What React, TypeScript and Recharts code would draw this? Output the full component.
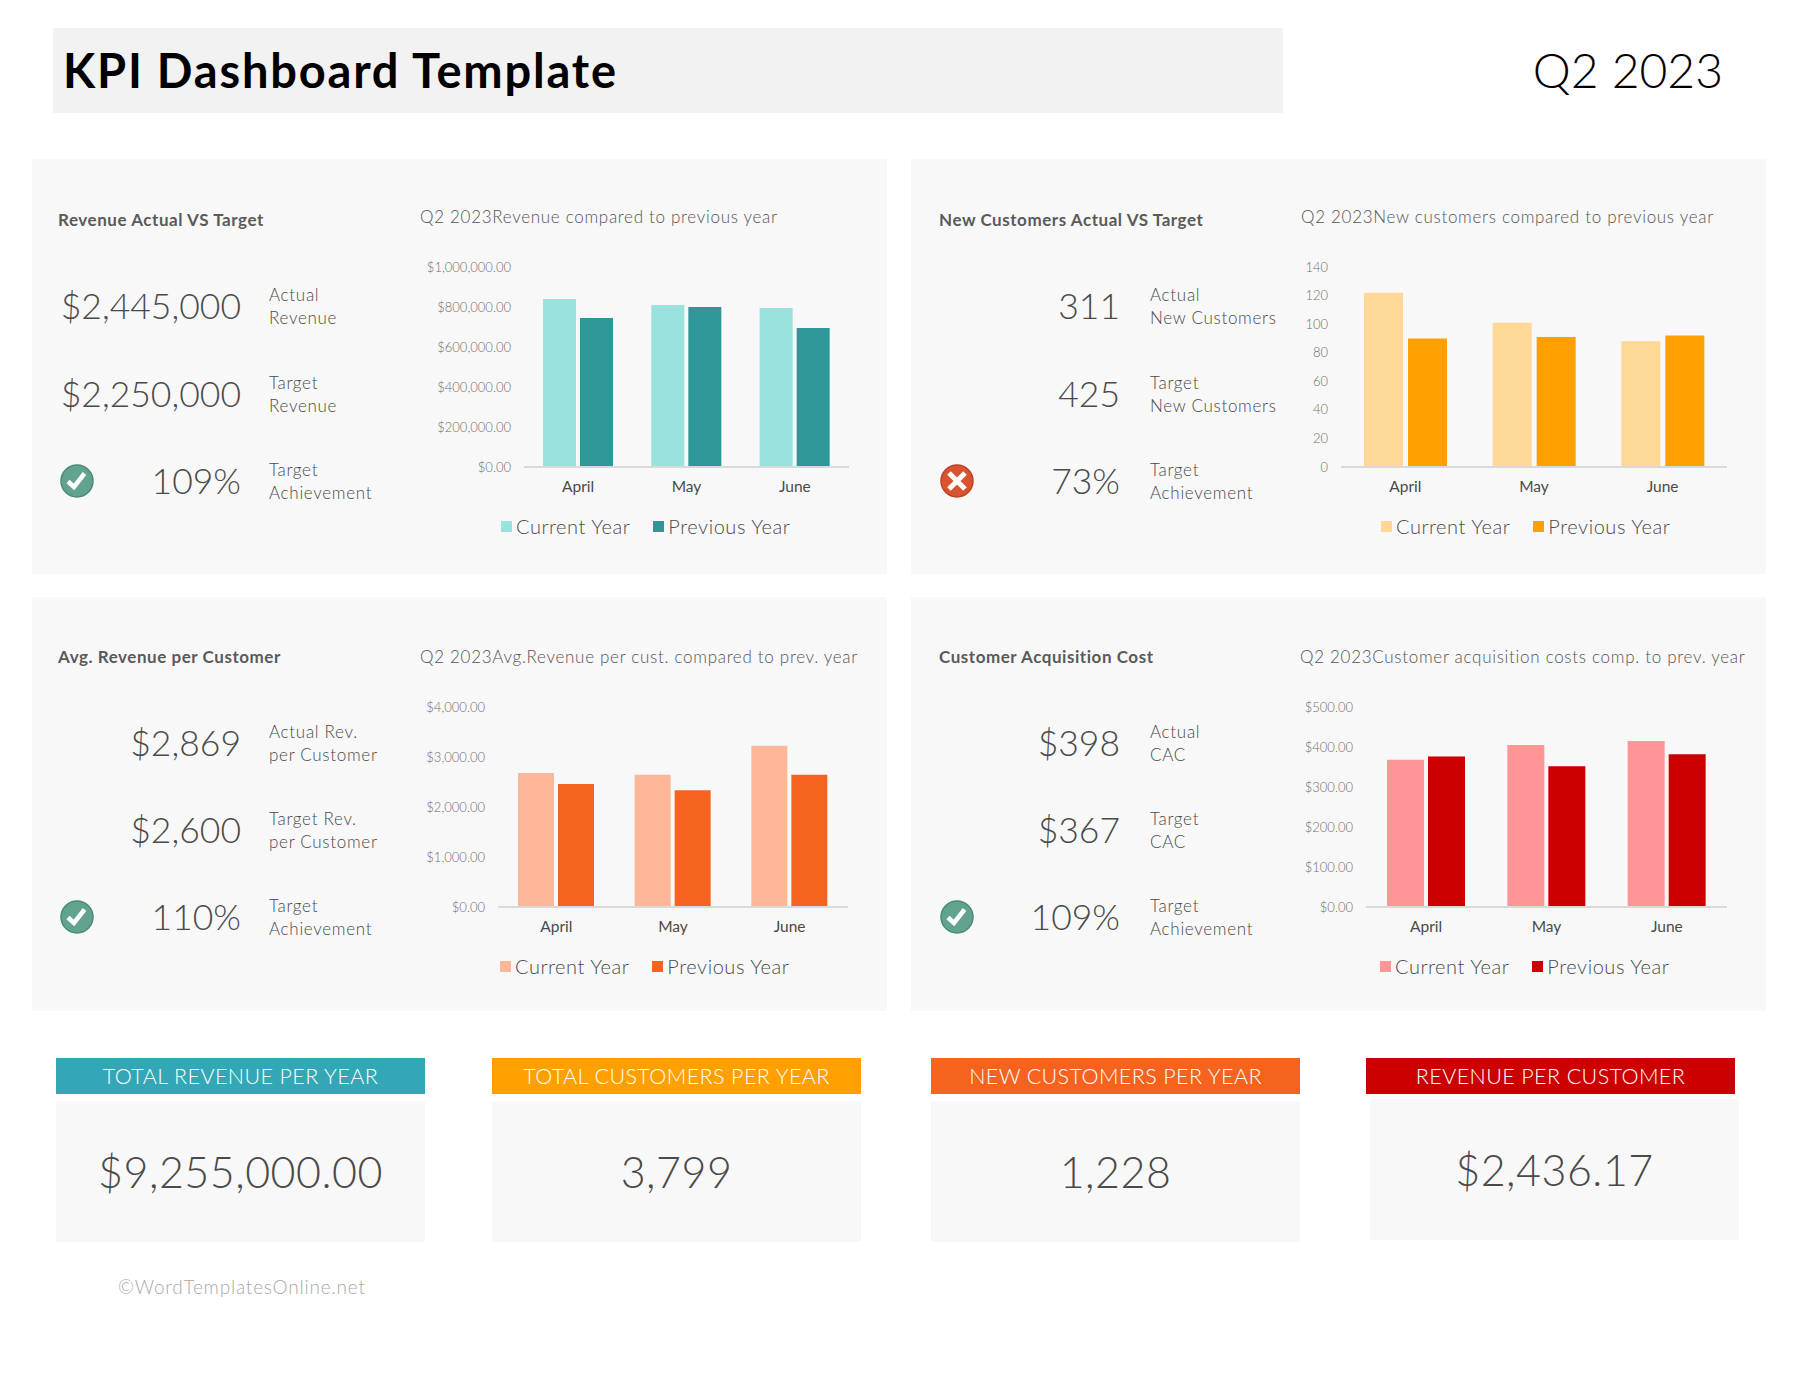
import { BarChart, Bar, XAxis, YAxis, Legend } from 'recharts'

const months = ['April', 'May', 'June']

const revenueCurrent = [840000, 810000, 795000]
const revenuePrevious = [745000, 800000, 695000]
const revenueTicks = [0, 200000, 400000, 600000, 800000, 1000000]

const customersCurrent = [122, 101, 88]
const customersPrevious = [90, 91, 92]
const customersTicks = [0, 20, 40, 60, 80, 100, 120, 140]

const avgCurrent = [2680, 2647, 3227]
const avgPrevious = [2460, 2333, 2647]
const avgTicks = [0, 1000, 2000, 3000, 4000]

const cacCurrent = [368, 405, 415]
const cacPrevious = [376, 352, 382]
const cacTicks = [0, 100, 200, 300, 400, 500]

const totals = ['$9,255,000.00', '3,799', '1,228', '$2,436.17']
const totalTitles = ['TOTAL REVENUE PER YEAR', 'TOTAL CUSTOMERS PER YEAR', 'NEW CUSTOMERS PER YEAR', 'REVENUE PER CUSTOMER']

const FONT = 'Lato, sans-serif'
const INK = '#4a4a4a'

const money = (v: number) => '$' + v.toLocaleString('en-US', { minimumFractionDigits: 2, maximumFractionDigits: 2 })
const plain = (v: number) => String(v)

function Txt({ x, right, y, size, weight = 300, color = INK, spacing = 0, children }: any) {
  const style: any = {
    position: 'absolute',
    top: y,
    transform: 'translateY(-50%)',
    fontFamily: FONT,
    fontSize: size,
    fontWeight: weight,
    color,
    letterSpacing: spacing,
    whiteSpace: 'nowrap',
    lineHeight: 1.2
  }
  if (right !== undefined) style.right = 1800 - right
  else style.left = x
  return <div style={style}>{children}</div>
}

function Icon({ x, y, ok }: { x: number; y: number; ok: boolean }) {
  return (
    <svg style={{ position: 'absolute', left: x - 18, top: y - 18 }} width={36} height={36}>
      <circle cx={18} cy={18} r={16} fill={ok ? '#62A390' : '#D8532F'} stroke={ok ? '#4A8A77' : '#BE4226'} strokeWidth={1.5} />
      {ok ? (
        <path d="M9 18.5 L15 24 L25.5 10.5" fill="none" stroke="#fff" strokeWidth={4.5} />
      ) : (
        <path d="M10 10 L26 26 M26 10 L10 26" fill="none" stroke="#fff" strokeWidth={5} />
      )}
    </svg>
  )
}

function MiniChart({ left, right, plotTop, plotBottom, axisWidth, legendX, legendGap, current, previous, ticks, format, light, dark, barSize, barGap }: any) {
  const top = plotTop - 10
  const height = plotBottom + 71 - top
  const rows = months.map((month, i) => ({ month, current: current[i], previous: previous[i] }))
  return (
    <div style={{ position: 'absolute', left: left - axisWidth, top }}>
      <BarChart
        width={right - left + axisWidth}
        height={height}
        data={rows}
        barSize={barSize}
        barGap={barGap}
        margin={{ top: 10, right: 0, bottom: 0, left: 0 }}
      >
        <XAxis
          dataKey="month"
          tickLine={false}
          height={47}
          tickMargin={8}
          axisLine={{ stroke: '#D9D9D9', strokeWidth: 2 }}
          tick={{ fontSize: 15.5, fontFamily: FONT, fontWeight: 400, fill: '#4a4a4a' }}
        />
        <YAxis
          width={axisWidth}
          domain={[ticks[0], ticks[ticks.length - 1]]}
          ticks={ticks}
          interval={0}
          tickFormatter={format}
          axisLine={false}
          tickLine={false}
          tickSize={0}
          tickMargin={13}
          tick={{ fontSize: 13, fontFamily: FONT, fontWeight: 300, fill: '#6f6f6f' }}
        />
        <Legend
          verticalAlign="bottom"
          height={24}
          wrapperStyle={{ left: 0 }}
          content={() => (
            <div style={{ display: 'flex', alignItems: 'center', height: 24, paddingLeft: legendX, fontFamily: FONT, fontWeight: 300, fontSize: 20, color: INK, letterSpacing: 0.55, whiteSpace: 'nowrap' }}>
              <span style={{ width: 11, height: 11, background: light, marginRight: 4 }} />
              <span style={{ marginRight: legendGap }}>Current Year</span>
              <span style={{ width: 11, height: 11, background: dark, marginRight: 4 }} />
              <span>Previous Year</span>
            </div>
          )}
        />
        <Bar dataKey="current" name="Current Year" fill={light} isAnimationActive={false} />
        <Bar dataKey="previous" name="Previous Year" fill={dark} isAnimationActive={false} />
      </BarChart>
    </div>
  )
}

function Panel({ x, y, h = 415, titleX, title, chartTitle, chartTitleX, chartTitleY, numRight, labelX, rows, iconX, ok, titleY, rowYs, children }: any) {
  return (
    <>
      <div style={{ position: 'absolute', left: x, top: y, width: 855, height: h, background: '#F8F8F8' }} />
      <Txt x={titleX} y={titleY} size={17} weight={700} color="#5a5a5a" spacing={0.55}>{title}</Txt>
      <Txt x={chartTitleX} y={chartTitleY} size={17} spacing={0.7} color="#555">{chartTitle}</Txt>
      {rows.map((r: any, i: number) => (
        <div key={i}>
          <Txt right={numRight} y={rowYs[i]} size={35.5}>{r[0]}</Txt>
          <Txt x={labelX} y={rowYs[i] - 11} size={17} spacing={0.7}>{r[1]}</Txt>
          <Txt x={labelX} y={rowYs[i] + 12} size={17} spacing={0.7}>{r[2]}</Txt>
        </div>
      ))}
      <Icon x={iconX} y={rowYs[2]} ok={ok} />
      {children}
    </>
  )
}

export default function App() {
  return (
    <div style={{ position: 'absolute', left: 0, top: 0, width: 1800, height: 1392, background: '#fff', overflow: 'hidden' }}>
      <div style={{ position: 'absolute', left: 53, top: 28, width: 1230, height: 85, background: '#F2F2F2' }} />
      <Txt x={63} y={70} size={47} weight={700} color="#000" spacing={1.8}>KPI Dashboard Template</Txt>
      <Txt right={1723} y={70} size={48} color="#000">Q2 2023</Txt>

      <Panel
        x={32} y={159} titleX={58} titleY={220} chartTitleX={420} chartTitleY={217}
        title="Revenue Actual VS Target" chartTitle="Q2 2023Revenue compared to previous year"
        numRight={241} labelX={269} iconX={77} ok
        rowYs={[306, 394, 481]}
        rows={[['$2,445,000', 'Actual', 'Revenue'], ['$2,250,000', 'Target', 'Revenue'], ['109%', 'Target', 'Achievement']]}
      >
        <MiniChart left={524} right={849} plotTop={267} plotBottom={467} axisWidth={100} legendX={77} legendGap={23}
          current={revenueCurrent} previous={revenuePrevious} ticks={revenueTicks} format={money}
          light="#99E2DE" dark="#2F9797" barSize={33} barGap={4} />
      </Panel>

      <Panel
        x={911} y={159} titleX={939} titleY={220} chartTitleX={1301} chartTitleY={217}
        title="New Customers Actual VS Target" chartTitle="Q2 2023New customers compared to previous year"
        numRight={1120} labelX={1150} iconX={957} ok={false}
        rowYs={[306, 394, 481]}
        rows={[['311', 'Actual', 'New Customers'], ['425', 'Target', 'New Customers'], ['73%', 'Target', 'Achievement']]}
      >
        <MiniChart left={1341} right={1727} plotTop={267} plotBottom={467} axisWidth={60} legendX={100} legendGap={23}
          current={customersCurrent} previous={customersPrevious} ticks={customersTicks} format={plain}
          light="#FFD796" dark="#FF9F00" barSize={39} barGap={5} />
      </Panel>

      <Panel
        x={32} y={597} h={414} titleX={58} titleY={657} chartTitleX={420} chartTitleY={657}
        title="Avg. Revenue per Customer" chartTitle="Q2 2023Avg.Revenue per cust. compared to prev. year"
        numRight={241} labelX={269} iconX={77} ok
        rowYs={[743, 830, 917]}
        rows={[['$2,869', 'Actual Rev.', 'per Customer'], ['$2,600', 'Target Rev.', 'per Customer'], ['110%', 'Target', 'Achievement']]}
      >
        <MiniChart left={498} right={848} plotTop={707} plotBottom={907} axisWidth={75} legendX={77} legendGap={23}
          current={avgCurrent} previous={avgPrevious} ticks={avgTicks} format={money}
          light="#FBB797" dark="#F5631E" barSize={36} barGap={4} />
      </Panel>

      <Panel
        x={911} y={597} h={414} titleX={939} titleY={657} chartTitleX={1300} chartTitleY={657}
        title="Customer Acquisition Cost" chartTitle="Q2 2023Customer acquisition costs comp. to prev. year"
        numRight={1120} labelX={1150} iconX={957} ok
        rowYs={[743, 830, 917]}
        rows={[['$398', 'Actual', 'CAC'], ['$367', 'Target', 'CAC'], ['109%', 'Target', 'Achievement']]}
      >
        <MiniChart left={1366} right={1727} plotTop={707} plotBottom={907} axisWidth={70} legendX={84} legendGap={23}
          current={cacCurrent} previous={cacPrevious} ticks={cacTicks} format={money}
          light="#FF9696" dark="#CC0000" barSize={37} barGap={4} />
      </Panel>

      {totals.map((t, i) => {
        const hx = [56, 492, 931, 1366][i]
        const bx = [56, 492, 931, 1370][i]
        const by = i === 3 ? 1099 : 1101
        const color = ['#33A7B5', '#FF9F00', '#F5631E', '#CC0000'][i]
        return (
          <div key={t}>
            <div style={{ position: 'absolute', left: hx, top: 1058, width: 369, height: 36, lineHeight: '36px', textAlign: 'center', background: color, color: '#fff', fontFamily: FONT, fontWeight: 300, fontSize: 21.5, letterSpacing: 0.4 }}>
              {totalTitles[i]}
            </div>
            <div style={{ position: 'absolute', left: bx, top: by, width: 369, height: 141, lineHeight: '141px', textAlign: 'center', background: '#F8F8F8', color: INK, fontFamily: FONT, fontWeight: 300, fontSize: 43, letterSpacing: 0.5 }}>
              {t}
            </div>
          </div>
        )
      })}

      <Txt x={118} y={1287} size={19} color="#a8a8a8" spacing={0.8}>©WordTemplatesOnline.net</Txt>
    </div>
  )
}
